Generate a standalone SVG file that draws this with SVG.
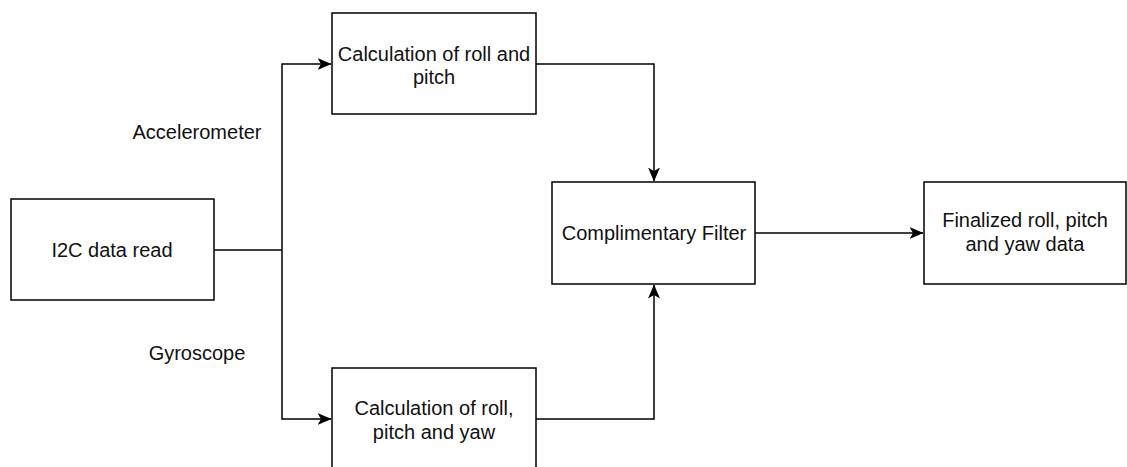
<svg xmlns="http://www.w3.org/2000/svg" width="1127" height="467" viewBox="0 0 1127 467">
  <style>
    .box { fill: #ffffff; stroke: #000000; stroke-width: 1.5; }
    .wire { fill: none; stroke: #000000; stroke-width: 1.5; }
    text { font-family: "Liberation Sans", Arial, sans-serif; font-size: 20px; fill: #111111; text-anchor: middle; }
  </style>
  <defs>
    <marker id="arrow" viewBox="0 0 14 12" refX="13.5" refY="6" markerWidth="14" markerHeight="12" markerUnits="userSpaceOnUse" orient="auto">
      <path d="M0,0 L14,6 L0,12 L3.5,6 Z" fill="#000000"/>
    </marker>
  </defs>
  <rect width="1127" height="467" fill="#ffffff"/>

  <g id="connectors">
    <polyline class="wire" points="214,250 282,250"/>
    <polyline class="wire" points="282,250 282,64 331,64" marker-end="url(#arrow)"/>
    <polyline class="wire" points="282,250 282,419 331,419" marker-end="url(#arrow)"/>
    <polyline class="wire" points="536,64 654,64 654,181" marker-end="url(#arrow)"/>
    <polyline class="wire" points="536,419 654,419 654,285" marker-end="url(#arrow)"/>
    <polyline class="wire" points="755,233 923,233" marker-end="url(#arrow)"/>
  </g>

  <g id="label-accelerometer"><text x="197" y="139">Accelerometer</text></g>
  <g id="label-gyroscope"><text x="197" y="360">Gyroscope</text></g>

  <g id="i2c-read">
    <rect class="box" x="11" y="199" width="203" height="101"/>
    <text x="112" y="257">I2C data read</text>
  </g>

  <g id="accel-calc">
    <rect class="box" x="332" y="13" width="204" height="101"/>
    <text x="434" y="61">Calculation of roll and</text>
    <text x="434" y="84">pitch</text>
  </g>

  <g id="gyro-calc">
    <rect class="box" x="332" y="368" width="204" height="101"/>
    <text x="434" y="415">Calculation of roll,</text>
    <text x="434" y="439">pitch and yaw</text>
  </g>

  <g id="comp-filter">
    <rect class="box" x="552" y="182" width="203" height="102"/>
    <text x="654" y="240">Complimentary Filter</text>
  </g>

  <g id="final-output">
    <rect class="box" x="924" y="182" width="202" height="102"/>
    <text x="1025" y="227">Finalized roll, pitch</text>
    <text x="1025" y="251">and yaw data</text>
  </g>
</svg>
